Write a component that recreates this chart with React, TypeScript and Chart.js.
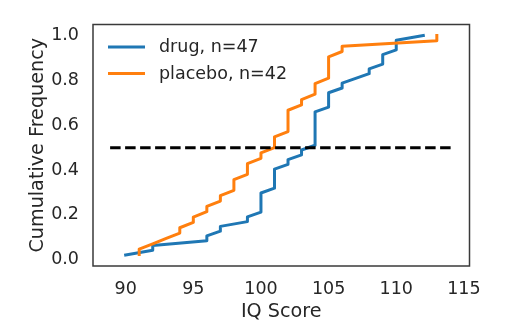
import React, { useEffect, useRef } from "react";
import { Chart, registerables } from "chart.js";
Chart.register(...registerables);

// Raw IQ scores read from the ECDF steps
const drugScores = [
  90, 92, 92, 96, 96, 97, 97, 99, 99,
  100, 100, 100, 100, 100,
  101, 101, 101, 101, 101,
  102, 102, 103, 103,
  104, 104, 104, 104, 104, 104, 104, 104,
  105, 105, 105, 105,
  106, 106, 107, 108, 108,
  109, 109, 109, 110, 110, 110, 112,
];
const placeboScores = [
  91, 91, 92, 93, 94, 94, 95, 95, 96, 96, 97, 97,
  98, 98, 98, 99, 99, 99, 100, 100,
  101, 101, 101,
  102, 102, 102, 102, 102,
  103, 103, 104, 104, 104,
  105, 105, 105, 105, 105,
  106, 106, 113, 113,
];
const seriesNames = ["drug", "placebo"];
const xTicks = [90, 95, 100, 105, 110, 115];
const yTicks = [0.0, 0.2, 0.4, 0.6, 0.8, 1.0];
const refLineY = 0.5;
const xTitle = "IQ Score";
const yTitle = "Cumulative Frequency";

const BLUE = "#1f77b4";
const ORANGE = "#ff7f0e";
const TEXT = "#262626";
const FONT = "DejaVu Sans";

function ecdf(values: number[]) {
  const s = [...values].sort((a, b) => a - b);
  return s.map((v, i) => ({ x: v, y: (i + 1) / s.length }));
}

function withMargin(lo: number, hi: number, m = 0.05) {
  const r = hi - lo;
  return [lo - r * m, hi + r * m];
}

export default function App() {
  const ref = useRef<HTMLCanvasElement | null>(null);

  useEffect(() => {
    if (!ref.current) return;
    const drug = ecdf(drugScores);
    const placebo = ecdf(placeboScores);
    const allX = [...drugScores, ...placeboScores];
    const [lx0, lx1] = withMargin(Math.min(...allX), Math.max(...allX));
    const [xmin, xmax] = withMargin(lx0, lx1);
    const allY = [...drug.map((p) => p.y), ...placebo.map((p) => p.y), refLineY];
    const [ymin, ymax] = withMargin(Math.min(...allY), Math.max(...allY));

    const legendItems = [
      { label: `${seriesNames[0]}, n=${drugScores.length}`, color: BLUE },
      { label: `${seriesNames[1]}, n=${placeboScores.length}`, color: ORANGE },
    ];

    const overlay = {
      id: "overlay",
      afterDraw(chart: any) {
        const { ctx, chartArea } = chart;
        ctx.save();
        ctx.strokeStyle = "#3a3a3a";
        ctx.lineWidth = 1.5;
        ctx.strokeRect(chartArea.left, chartArea.top, chartArea.right - chartArea.left, chartArea.bottom - chartArea.top);
        ctx.font = `17.5px "${FONT}"`;
        ctx.textBaseline = "middle";
        ctx.textAlign = "left";
        legendItems.forEach((it, i) => {
          const y = chartArea.top + 22.5 + i * 26.5;
          const x0 = chartArea.left + 15;
          ctx.strokeStyle = it.color;
          ctx.lineWidth = 3;
          ctx.lineCap = "butt";
          ctx.beginPath();
          ctx.moveTo(x0, y);
          ctx.lineTo(x0 + 37, y);
          ctx.stroke();
          ctx.fillStyle = TEXT;
          ctx.fillText(it.label, x0 + 51, y + 0.5);
        });
        ctx.restore();
      },
    };

    const chart = new Chart(ref.current, {
      type: "line",
      data: {
        datasets: [
          {
            label: "ref",
            data: [
              { x: lx0, y: refLineY },
              { x: lx1, y: refLineY },
            ],
            borderColor: "#000000",
            borderWidth: 3,
            borderDash: [10.5, 4.5],
            pointRadius: 0,
            order: 0,
          },
          {
            label: legendItems[1].label,
            data: placebo,
            borderColor: ORANGE,
            borderWidth: 3,
            pointRadius: 0,
            borderJoinStyle: "round",
            borderCapStyle: "square",
            order: 1,
          },
          {
            label: legendItems[0].label,
            data: drug,
            borderColor: BLUE,
            borderWidth: 3,
            pointRadius: 0,
            borderJoinStyle: "round",
            borderCapStyle: "square",
            order: 2,
          },
        ],
      },
      options: {
        animation: false,
        responsive: false,
        devicePixelRatio: 1,
        layout: { padding: { top: 22, right: 43.5, bottom: 0, left: 0 } },
        plugins: { legend: { display: false }, tooltip: { enabled: false } },
        elements: { line: { tension: 0 } },
        scales: {
          x: {
            type: "linear",
            min: xmin,
            max: xmax,
            afterBuildTicks: (axis: any) => {
              axis.ticks = xTicks.map((v) => ({ value: v }));
            },
            afterFit: (axis: any) => {
              axis.height = 60;
            },
            grid: { display: false, drawTicks: false },
            border: { display: false },
            ticks: {
              autoSkip: false,
              maxRotation: 0,
              padding: 13,
              color: TEXT,
              font: { family: FONT, size: 17.5 },
              callback: (v: any) => String(v),
            },
            title: {
              display: true,
              text: xTitle,
              color: TEXT,
              font: { family: FONT, size: 19.2 },
              padding: { top: 0, bottom: 2.5 },
            },
          },
          y: {
            type: "linear",
            min: ymin,
            max: ymax,
            afterBuildTicks: (axis: any) => {
              axis.ticks = yTicks.map((v) => ({ value: v }));
            },
            afterFit: (axis: any) => {
              axis.width = 93;
            },
            grid: { display: false, drawTicks: false },
            border: { display: false },
            ticks: {
              autoSkip: false,
              padding: 14,
              color: TEXT,
              font: { family: FONT, size: 17.5 },
              callback: (v: any) => Number(v).toFixed(1),
            },
            title: {
              display: true,
              text: yTitle,
              color: TEXT,
              font: { family: FONT, size: 19.2 },
              padding: { top: 26, bottom: 0 },
            },
          },
        },
      },
      plugins: [overlay],
    } as any);
    return () => chart.destroy();
  }, []);

  return (
    <div style={{ position: "fixed", left: 0, top: 0, width: 513, height: 326, background: "#fff" }}>
      <canvas ref={ref} width={513} height={326} style={{ width: 513, height: 326, display: "block" }} />
    </div>
  );
}
